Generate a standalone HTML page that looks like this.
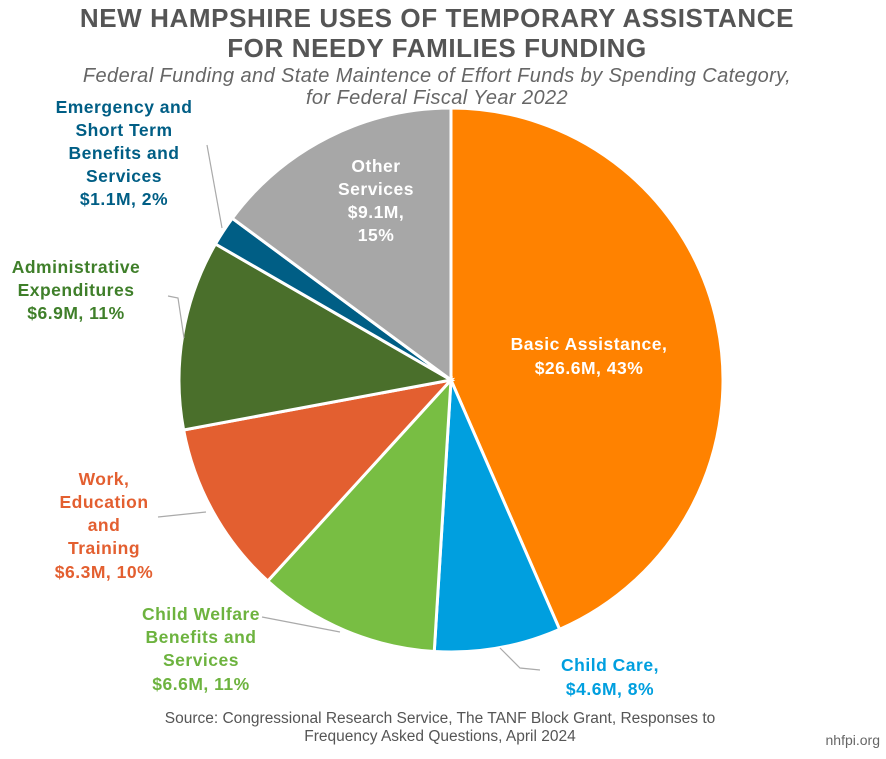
<!DOCTYPE html>
<html><head><meta charset="utf-8"><style>
body{margin:0;background:#fff;width:886px;height:754px;overflow:hidden;font-family:"Liberation Sans",sans-serif}
</style></head><body>
<svg id="s" width="886" height="754" xmlns="http://www.w3.org/2000/svg" font-family="Liberation Sans, sans-serif">
<text x="437" y="27" text-anchor="middle" font-size="26" font-weight="bold" fill="#555" letter-spacing="0.6">NEW HAMPSHIRE USES OF TEMPORARY ASSISTANCE</text>
<text x="437" y="57" text-anchor="middle" font-size="26" font-weight="bold" fill="#555" letter-spacing="0.6">FOR NEEDY FAMILIES FUNDING</text>
<text x="437" y="82" text-anchor="middle" font-size="20" font-style="italic" fill="#666" letter-spacing="0.4">Federal Funding and State Maintence of Effort Funds by Spending Category,</text>
<text x="437" y="104" text-anchor="middle" font-size="20" font-style="italic" fill="#666" letter-spacing="0.4">for Federal Fiscal Year 2022</text>
<g id="pie"></g>
<g stroke="#aaa" stroke-width="1.2" fill="none">
<polyline points="207,145 222,228"/>
<polyline points="168,296 178,298 184,338"/>
<polyline points="158,517 206,512"/>
<polyline points="262,617 340,632"/>
<polyline points="500,648 520,668 540,670"/>
</g>
<g font-size="17.5" font-weight="bold" text-anchor="middle" letter-spacing="0.5">
<g fill="#fff"><text x="589" y="350">Basic Assistance,</text><text x="589" y="374">$26.6M, 43%</text>
<text x="376" y="172">Other</text><text x="376" y="195">Services</text><text x="376" y="218">$9.1M,</text><text x="376" y="241">15%</text></g>
<g fill="#005E85"><text x="124" y="113">Emergency and</text><text x="124" y="136">Short Term</text><text x="124" y="159">Benefits and</text><text x="124" y="182">Services</text><text x="124" y="205">$1.1M, 2%</text></g>
<g fill="#3F7F2A"><text x="76" y="273">Administrative</text><text x="76" y="296">Expenditures</text><text x="76" y="319">$6.9M, 11%</text></g>
<g fill="#E35F30"><text x="104" y="485">Work,</text><text x="104" y="508">Education</text><text x="104" y="531">and</text><text x="104" y="554">Training</text><text x="104" y="578">$6.3M, 10%</text></g>
<g fill="#6DB33F"><text x="201" y="620">Child Welfare</text><text x="201" y="643">Benefits and</text><text x="201" y="666">Services</text><text x="201" y="690">$6.6M, 11%</text></g>
<g fill="#009FDF"><text x="610" y="671">Child Care,</text><text x="610" y="695">$4.6M, 8%</text></g>
</g>
<text x="440" y="723" text-anchor="middle" font-size="15.5" fill="#555">Source: Congressional Research Service, The TANF Block Grant, Responses to</text>
<text x="440" y="741" text-anchor="middle" font-size="15.5" fill="#555">Frequency Asked Questions, April 2024</text>
<text x="880" y="745" text-anchor="end" font-size="14" fill="#666">nhfpi.org</text>
</svg>
<script>
var d=[[26.6,"#FF8200"],[4.6,"#009FDF"],[6.6,"#78BE43"],[6.3,"#E35F30"],[6.9,"#4A6F2B"],[1.1,"#005E85"],[9.1,"#A7A7A7"]];
var t=0,T=61.2,cx=451,cy=380,r=272,h="";
d.forEach(function(e){var a0=t/T*2*Math.PI;t+=e[0];var a1=t/T*2*Math.PI;
var x0=cx+r*Math.sin(a0),y0=cy-r*Math.cos(a0),x1=cx+r*Math.sin(a1),y1=cy-r*Math.cos(a1);
h+='<path d="M'+cx+','+cy+'L'+x0+','+y0+'A'+r+','+r+' 0 '+((a1-a0)>Math.PI?1:0)+' 1 '+x1+','+y1+'Z" fill="'+e[1]+'" stroke="#fff" stroke-width="3"/>';});
document.getElementById("pie").innerHTML=h;
</script>
</body></html>
